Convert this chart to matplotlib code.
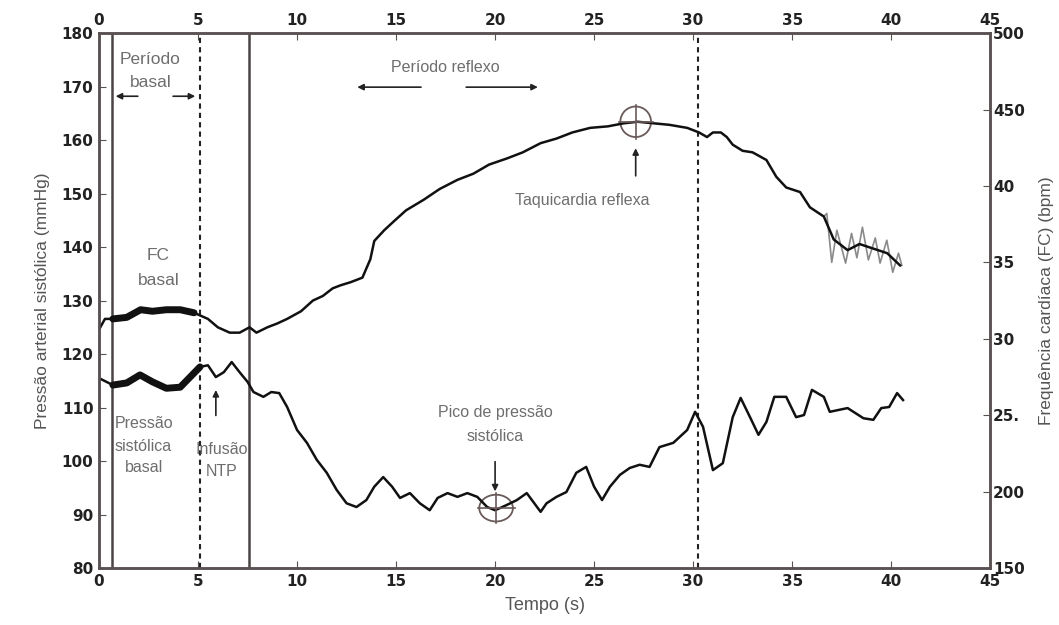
import numpy as np
import matplotlib.pyplot as plt
from matplotlib.patches import Ellipse

plt.rcParams['font.family'] = ['Liberation Sans', 'DejaVu Sans']

# Pressão sistólica (mmHg)
press_t = [0, 0.7, 1.4, 2.07, 2.7, 3.4, 4.1, 4.6, 5.1, 5.5, 5.9, 6.3, 6.7, 7.1, 7.5,
           7.8, 8.3, 8.7, 9.1, 9.5, 10.0, 10.5, 11.0, 11.5, 12.0, 12.5, 13.0, 13.5,
           13.9, 14.35, 14.8, 15.2, 15.7, 16.2, 16.7, 17.1, 17.6, 18.1, 18.6, 19.1,
           19.6, 20.0, 20.6, 21.1, 21.6, 22.3, 22.6, 23.1, 23.6, 24.1, 24.6, 25.0,
           25.4, 25.8, 26.3, 26.8, 27.3, 27.8, 28.3, 29.0, 29.7, 30.1, 30.5, 31.0,
           31.5, 32.0, 32.4, 32.9, 33.3, 33.7, 34.1, 34.7, 35.2, 35.6, 36.0, 36.6,
           36.9, 37.8, 38.6, 39.1, 39.5, 39.9, 40.3, 40.6]
press = [115.5, 114.2, 114.6, 116.1, 114.8, 113.6, 113.8, 115.7, 117.6, 117.9, 115.7,
         116.6, 118.5, 116.6, 114.8, 112.9, 112.0, 112.9, 112.7, 110.1, 105.8, 103.4,
         100.2, 97.8, 94.6, 92.1, 91.4, 92.7, 95.2, 97.0, 95.2, 93.1, 94.0, 92.1, 90.8,
         93.1, 94.0, 93.3, 94.0, 93.3, 91.4, 90.8, 91.8, 92.7, 94.0, 90.5, 92.1, 93.3,
         94.2, 97.8, 98.9, 95.2, 92.7, 95.2, 97.4, 98.7, 99.3, 98.9, 102.6, 103.4,
         105.8, 109.2, 106.4, 98.3, 99.6, 108.2, 111.8, 108.0, 104.9, 107.3, 112.0,
         112.0, 108.2, 108.6, 113.3, 112.0, 109.2, 109.9, 108.0, 107.7, 109.9, 110.1,
         112.7, 111.4]

# Frequência cardíaca (bpm)
fc_t = [0, 0.3, 0.7, 1.4, 2.1, 2.7, 3.4, 4.1, 4.8, 5.5, 6.0, 6.6, 7.1, 7.6, 7.95,
        8.5, 9.0, 9.5, 10.2, 10.8, 11.3, 11.8, 12.2, 12.7, 13.3, 13.7, 13.9, 14.4,
        14.9, 15.5, 16.4, 17.2, 18.1, 18.9, 19.7, 20.6, 21.4, 22.3, 23.1, 23.9, 24.8,
        25.7, 26.5, 27.2, 28.0, 28.8, 29.7, 30.3, 30.7, 31.0, 31.4, 31.7, 32.0, 32.5,
        33.0, 33.7, 34.2, 34.7, 35.4, 35.9, 36.6, 37.1, 37.8, 38.4, 39.1, 39.8, 40.45]
fc = [306, 313, 313, 314, 319, 318, 319, 319, 317, 313, 307.5, 304, 304, 307.5, 304,
      307.5, 310, 313, 318, 325, 328, 333, 335, 337, 340, 352, 364, 371, 377, 384,
      391, 398, 404, 408, 414, 418, 422, 428, 431, 435, 438, 439, 441, 442, 441, 440,
      438, 435, 432, 435, 435, 432, 427, 423, 422, 417, 406, 399, 396, 386, 380, 365,
      358, 362, 359, 356, 348]

# sinal bruto (cinza) no fim do registro de FC
fc_raw_t = [36.6, 36.75, 37.0, 37.26, 37.7, 38.0, 38.27, 38.55, 38.85, 39.2, 39.44,
            39.78, 40.08, 40.37, 40.54]
fc_raw = [380, 382, 350, 371, 349.5, 369, 353, 373, 351.6, 366, 349.5, 364.5, 343.5,
          356, 348]

xticks = list(range(0, 50, 5))
left_ticks = list(range(80, 190, 10))
right_ticks = list(range(150, 550, 50))
right_labels = ['150', '200', '25.', '30', '35', '40', '450', '500']

spine_c = '#5a5252'
txt_c = '#6e6e6e'

fig = plt.figure(figsize=(10.59, 6.25), dpi=100)
ax = fig.add_axes([0.0935, 0.0912, 0.8415, 0.8558])
ax2 = ax.twinx()

ax.set_xlim(0, 45)
ax.set_ylim(80, 180)
ax2.set_ylim(150, 500)

# linhas verticais
ax.axvline(0.65, color='#4a4444', lw=1.8)
ax.axvline(7.55, color='#4a4444', lw=1.8)
ax.axvline(5.1, color='#222222', lw=1.5, ls=(0, (2.5, 2)))
ax.axvline(30.25, color='#222222', lw=1.5, ls=(0, (2.5, 2)))

# curvas
pt = np.array(press_t)
pv = np.array(press)
ax.plot(pt, pv, color='#111111', lw=1.8)
m = (pt >= 0.6) & (pt <= 5.1)
ax.plot(pt[m], pv[m], color='#111111', lw=5, solid_capstyle='round')

ft = np.array(fc_t)
fv = np.array(fc)
ax2.plot(fc_raw_t, fc_raw, color='#8a8a8a', lw=1.2)
ax2.plot(ft, fv, color='#111111', lw=1.8)
m2 = (ft >= 0.6) & (ft <= 5.0)
ax2.plot(ft[m2], fv[m2], color='#111111', lw=5, solid_capstyle='round')

# marcadores circulares com cruz
def cross_circle(a, x, y, w, h):
    a.add_patch(Ellipse((x, y), w, h, fill=False, ec='#6a5a5a', lw=1.3))
    a.plot([x - w * 0.55, x + w * 0.55], [y, y], color='#6a5a5a', lw=1.2)
    a.plot([x, x], [y - h * 0.55, y + h * 0.55], color='#6a5a5a', lw=1.2)

cross_circle(ax2, 27.1, 442, 1.55, 20)
cross_circle(ax, 20.05, 91.2, 1.7, 5.0)

# anotações
ax.text(2.6, 175.0, 'Período', ha='center', va='center', fontsize=12.5, color=txt_c)
ax.text(2.6, 170.8, 'basal', ha='center', va='center', fontsize=12.5, color=txt_c)
arr = dict(arrowstyle='-|>', color='#222222', lw=1.2, mutation_scale=9)
ax.annotate('', xy=(0.7, 168.2), xytext=(2.1, 168.2), arrowprops=arr)
ax.annotate('', xy=(5.0, 168.2), xytext=(3.6, 168.2), arrowprops=arr)

ax.text(3.0, 138.5, 'FC', ha='center', va='center', fontsize=12.5, color=txt_c)
ax.text(3.0, 133.8, 'basal', ha='center', va='center', fontsize=12.5, color=txt_c)

ax.text(2.25, 107.0, 'Pressão', ha='center', va='center', fontsize=11.5, color=txt_c)
ax.text(2.25, 102.8, 'sistólica', ha='center', va='center', fontsize=11.5, color=txt_c)
ax.text(2.25, 98.8, 'basal', ha='center', va='center', fontsize=11.5, color=txt_c)

ax.text(6.2, 102.2, 'Infusão', ha='center', va='center', fontsize=11.5, color=txt_c)
ax.text(6.2, 98.0, 'NTP', ha='center', va='center', fontsize=11.5, color=txt_c)
ax.annotate('', xy=(5.9, 113.8), xytext=(5.9, 108.0), arrowprops=arr)

ax.text(17.5, 173.6, 'Período reflexo', ha='center', va='center', fontsize=11.5, color=txt_c)
ax.annotate('', xy=(12.9, 169.9), xytext=(16.4, 169.9), arrowprops=arr)
ax.annotate('', xy=(22.3, 169.9), xytext=(18.4, 169.9), arrowprops=arr)

ax.annotate('', xy=(27.1, 159.0), xytext=(27.1, 152.8), arrowprops=arr)
ax.text(24.4, 148.8, 'Taquicardia reflexa', ha='center', va='center', fontsize=11.5, color=txt_c)

ax.text(20.0, 109.0, 'Pico de pressão', ha='center', va='center', fontsize=11.5, color=txt_c)
ax.text(20.0, 104.6, 'sistólica', ha='center', va='center', fontsize=11.5, color=txt_c)
ax.annotate('', xy=(20.0, 93.8), xytext=(20.0, 100.4), arrowprops=arr)

# eixos
tick_font = dict(fontsize=11, fontweight='bold', family='DejaVu Sans', color='#222222')
ax.set_xticks(xticks, labels=[str(v) for v in xticks], **tick_font)
ax.set_yticks(left_ticks, labels=[str(v) for v in left_ticks], **tick_font)
ax2.set_yticks(right_ticks, labels=right_labels, **tick_font)
ax.tick_params(axis='x', direction='in', top=True, labeltop=True, length=5,
               color=spine_c, pad=4)
ax.tick_params(axis='y', direction='in', length=5, color=spine_c, pad=4)
ax2.tick_params(axis='y', direction='in', length=5, color=spine_c, pad=2)
for a in (ax, ax2):
    for s in a.spines.values():
        s.set_color(spine_c)
        s.set_linewidth(1.8)

ax.set_xlabel('Tempo (s)', fontsize=13, color='#555555', labelpad=6)
ax.set_ylabel('Pressão arterial sistólica (mmHg)', fontsize=12.5, color='#555555',
              labelpad=8)
ax2.set_ylabel('Frequência cardíaca (FC) (bpm)', fontsize=12.5, color='#555555',
               labelpad=10, rotation=90)

fig.savefig('out.png', dpi=100)
